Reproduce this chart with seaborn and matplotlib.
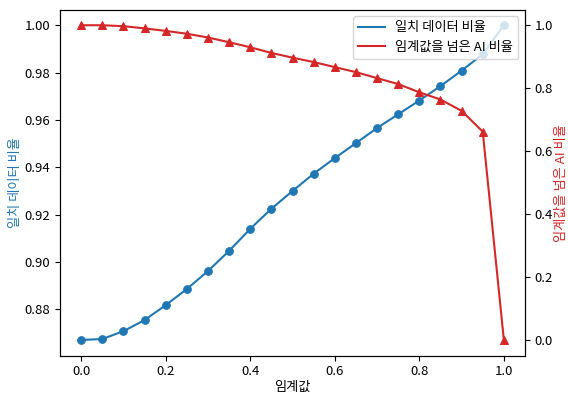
import numpy as np
import pandas as pd
import matplotlib
matplotlib.use("Agg")
import matplotlib.pyplot as plt
from matplotlib.lines import Line2D
import seaborn as sns

thresholds = np.round(np.arange(0, 1.0001, 0.05), 2)
match_ratio = [0.8671, 0.8675, 0.8708, 0.8755, 0.8818, 0.8886, 0.8962, 0.9047,
               0.9140, 0.9225, 0.9300, 0.9373, 0.9439, 0.9502, 0.9566, 0.9624,
               0.9682, 0.9743, 0.9808, 0.9878, 1.0000]
above_ratio = [1.000, 1.000, 0.997, 0.990, 0.982, 0.973, 0.961, 0.946, 0.930,
               0.912, 0.897, 0.883, 0.867, 0.851, 0.832, 0.813, 0.787, 0.764,
               0.728, 0.662, 0.000]

df = pd.DataFrame({"threshold": thresholds, "match": match_ratio, "above": above_ratio})

plt.rcParams["font.family"] = ["Noto Sans CJK KR", "DejaVu Sans"]
plt.rcParams["font.size"] = 9.5
plt.rcParams["axes.unicode_minus"] = False

blue = "#1f77b4"
red = "#d62728"

fig, ax1 = plt.subplots(figsize=(5.68, 3.94), dpi=100)
fig.subplots_adjust(left=60 / 568, right=525 / 568, top=1 - 9.5 / 394, bottom=1 - 355.7 / 394)

sns.lineplot(data=df, x="threshold", y="match", ax=ax1, color=blue, marker="o",
             markersize=5.5, markeredgecolor=blue, linewidth=1.5)
ax1.set_xlabel("임계값", labelpad=2)
ax1.set_ylabel("일치 데이터 비율", color=blue, labelpad=2)
ax1.set_yticks([0.88, 0.90, 0.92, 0.94, 0.96, 0.98, 1.00])
ax1.set_xticks([0.0, 0.2, 0.4, 0.6, 0.8, 1.0])

ax2 = ax1.twinx()
sns.lineplot(data=df, x="threshold", y="above", ax=ax2, color=red, marker="^",
             markersize=6, markeredgecolor=red, linewidth=1.5)
ax2.set_ylabel("임계값을 넘은 AI 비율", color=red, labelpad=1)
ax2.set_yticks([0.0, 0.2, 0.4, 0.6, 0.8, 1.0])

handles = [Line2D([0], [0], color=blue, lw=1.5), Line2D([0], [0], color=red, lw=1.5)]
ax1.legend(handles, ["일치 데이터 비율", "임계값을 넘은 AI 비율"], loc="upper right",
           fontsize=9.5)

fig.savefig("out.png", dpi=100)
